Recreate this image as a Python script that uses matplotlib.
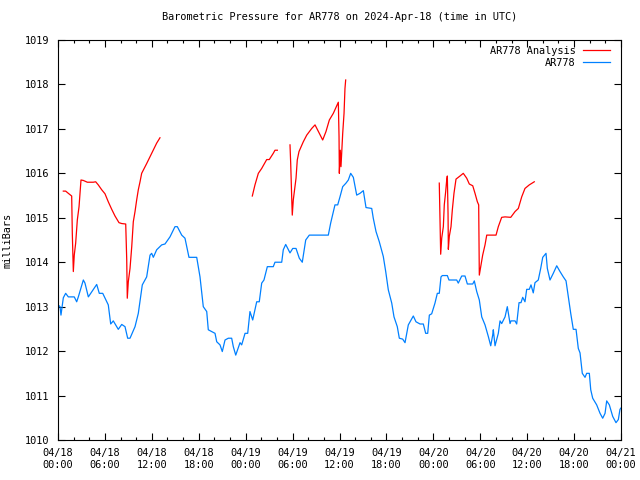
import numpy as np
import datetime as dt
import matplotlib
matplotlib.use("Agg")
import matplotlib.pyplot as plt
import matplotlib.dates as mdates
from matplotlib.ticker import MultipleLocator

nan = np.nan
start = dt.datetime(2024, 4, 18, 0, 0)

# AR778 observations (hours after 04/18 00:00 UTC, millibars)
obs_hours = [
    0.0, 0.26, 0.38, 0.68, 0.98, 1.32, 2.08, 2.39, 2.60, 3.24, 3.45, 3.88, 4.95, 5.28, 5.72,
    6.43, 6.74, 7.07, 7.71, 8.15, 8.57, 8.91, 9.21, 9.85, 10.27, 10.78, 11.34, 11.77, 11.98,
    12.19, 12.62, 13.26, 13.68, 14.32, 14.96, 15.26, 15.82, 16.24, 16.75, 17.74, 18.16, 18.58,
    19.02, 19.22, 20.08, 20.30, 20.72, 21.01, 21.36, 21.78, 22.21, 22.42, 22.73, 23.28, 23.49,
    23.92, 24.26, 24.55, 24.90, 25.41, 25.74, 26.05, 26.34, 26.77, 27.53, 27.75, 28.61, 28.81,
    29.12, 29.67, 30.02, 30.44, 30.86, 31.24, 31.68, 32.14, 34.57, 34.87, 35.42, 35.77, 36.06,
    36.41, 36.83, 37.13, 37.43, 37.77, 38.20, 38.62, 39.05, 39.39, 40.12, 40.32, 40.67, 41.09,
    41.60, 41.91, 42.24, 42.68, 42.97, 43.39, 43.65, 44.08, 44.38, 44.80, 45.44, 45.78, 46.30,
    46.72, 47.02, 47.28, 47.49, 47.79, 48.21, 48.51, 48.76, 48.98, 49.15, 49.79, 50.00, 50.99,
    51.19, 51.63, 52.05, 52.35, 53.04, 53.24, 53.55, 53.88, 54.19, 54.61, 55.03, 55.34, 55.59,
    55.67, 55.89, 56.31, 56.53, 56.74, 57.17, 57.46, 57.81, 57.93, 58.45, 58.66, 58.96, 59.21,
    59.43, 59.72, 59.94, 60.27, 60.49, 60.78, 61.00, 61.42, 61.73, 61.99, 62.41, 62.58, 62.92,
    63.34, 63.78, 64.20, 64.62, 64.97, 65.26, 65.57, 65.90, 66.25, 66.54, 66.76, 67.05, 67.40,
    67.61, 67.95, 68.13, 68.38, 68.89, 69.32, 69.66, 69.96, 70.17, 70.51, 70.94, 71.36, 71.66,
    71.87, 72.0,
]
obs_mb = [
    1013.04, 1013.0, 1012.81, 1013.2, 1013.3, 1013.22, 1013.22, 1013.11, 1013.22, 1013.6, 1013.53,
    1013.22, 1013.5, 1013.3, 1013.3, 1013.04, 1012.61, 1012.68, 1012.49, 1012.6, 1012.55, 1012.29,
    1012.29, 1012.55, 1012.85, 1013.49, 1013.67, 1014.16, 1014.2, 1014.11, 1014.28, 1014.39,
    1014.41, 1014.57, 1014.8, 1014.8, 1014.61, 1014.54, 1014.11, 1014.11, 1013.67, 1013.0,
    1012.89, 1012.48, 1012.4, 1012.21, 1012.14, 1011.99, 1012.25, 1012.29, 1012.29, 1012.1,
    1011.91, 1012.19, 1012.14, 1012.4, 1012.4, 1012.89, 1012.7, 1013.11, 1013.11, 1013.53,
    1013.6, 1013.9, 1013.9, 1014.0, 1014.0, 1014.28, 1014.4, 1014.21, 1014.31, 1014.31, 1014.09,
    1014.0, 1014.5, 1014.61, 1014.61, 1014.88, 1015.29, 1015.29, 1015.47, 1015.7, 1015.78,
    1015.85, 1016.0, 1015.91, 1015.51, 1015.55, 1015.61, 1015.23, 1015.21, 1014.99, 1014.69,
    1014.46, 1014.13, 1013.79, 1013.38, 1013.08, 1012.77, 1012.55, 1012.29, 1012.27, 1012.19,
    1012.59, 1012.79, 1012.66, 1012.61, 1012.61, 1012.4, 1012.4, 1012.81, 1012.84, 1013.08,
    1013.3, 1013.3, 1013.67, 1013.7, 1013.7, 1013.6, 1013.6, 1013.53, 1013.69, 1013.69, 1013.51,
    1013.51, 1013.58, 1013.34, 1013.15, 1012.77, 1012.59, 1012.33, 1012.12, 1012.36, 1012.48,
    1012.12, 1012.4, 1012.68, 1012.62, 1012.77, 1013.0, 1012.62, 1012.68, 1012.68, 1012.61,
    1013.09, 1013.09, 1013.21, 1013.11, 1013.39, 1013.39, 1013.49, 1013.31, 1013.54, 1013.6,
    1013.86, 1014.11, 1014.2, 1013.86, 1013.6, 1013.75, 1013.92, 1013.79, 1013.67, 1013.58,
    1013.22, 1012.85, 1012.49, 1012.49, 1012.06, 1011.96, 1011.5, 1011.41, 1011.5, 1011.5,
    1011.13, 1010.94, 1010.79, 1010.6, 1010.49, 1010.6, 1010.88, 1010.79, 1010.53, 1010.39,
    1010.46, 1010.69, 1010.72,
]

# AR778 analysis (gaps where no analysis is available)
ana_hours = [
    0.68, 0.98, 1.32, 1.75, 1.83, 1.96, 2.08, 2.26, 2.47, 2.69, 2.94, 3.24, 3.75, 4.51, 4.82,
    5.15, 5.59, 6.01, 6.43, 6.87, 7.29, 7.80, 8.15, 8.66, 8.79, 8.86, 8.99, 9.21, 9.43, 9.63,
    9.85, 10.06, 10.27, 10.49, 10.70, 11.34, 11.98, 12.62, 13.04,
    13.5,
    24.85, 25.19, 25.62, 26.05, 26.69, 27.02, 27.53, 27.75, 28.05,
    28.5,
    29.67, 29.76, 29.89, 29.96, 30.09, 30.44, 30.60, 30.82, 31.37, 31.81, 32.45, 32.87, 33.42,
    33.85, 34.27, 34.70, 35.21, 35.85, 35.94, 35.98, 36.10, 36.19, 36.41, 36.58, 36.70, 36.79,
    37.0,
    48.76, 48.85, 48.94, 49.07, 49.28, 49.40, 49.58, 49.71, 49.79, 49.88, 49.92, 50.04, 50.26,
    50.43, 50.64, 50.90, 51.41, 51.83, 52.27, 52.60, 53.04, 53.33, 53.63, 53.80, 53.84, 53.88,
    54.06, 54.31, 54.61, 54.83, 56.02, 56.31, 56.74, 57.17, 57.90, 58.45, 58.87, 59.30, 59.72,
    60.27, 60.91,
]
ana_mb = [
    1015.6, 1015.6, 1015.55, 1015.49, 1014.65, 1013.79, 1014.16, 1014.43, 1014.95, 1015.25,
    1015.85, 1015.84, 1015.8, 1015.8, 1015.81, 1015.74, 1015.63, 1015.54, 1015.36, 1015.19,
    1015.04, 1014.89, 1014.87, 1014.86, 1014.05, 1013.19, 1013.56, 1013.86, 1014.35, 1014.91,
    1015.14, 1015.4, 1015.63, 1015.81, 1016.0, 1016.22, 1016.45, 1016.68, 1016.8,
    nan,
    1015.49, 1015.74, 1016.0, 1016.11, 1016.31, 1016.31, 1016.45, 1016.52, 1016.52,
    nan,
    1016.64, 1016.22, 1015.44, 1015.06, 1015.4, 1015.89, 1016.3, 1016.49, 1016.71, 1016.86,
    1017.01, 1017.09, 1016.9, 1016.75, 1016.94, 1017.2, 1017.35, 1017.6, 1016.83, 1016.0,
    1016.52, 1016.15, 1016.9, 1017.35, 1017.91, 1018.1,
    nan,
    1015.78, 1014.99, 1014.18, 1014.54, 1014.8, 1015.29, 1015.59, 1015.85, 1015.94, 1015.1,
    1014.29, 1014.58, 1014.8, 1015.18, 1015.55, 1015.87, 1015.94, 1016.0, 1015.89, 1015.76,
    1015.72, 1015.55, 1015.36, 1015.29, 1014.5, 1013.71, 1013.9, 1014.16, 1014.39, 1014.61,
    1014.61, 1014.8, 1015.01, 1015.02, 1015.01, 1015.14, 1015.21, 1015.47, 1015.66, 1015.74,
    1015.81,
]

obs_t = [start + dt.timedelta(hours=h) for h in obs_hours]
ana_t = [start + dt.timedelta(hours=h) for h in ana_hours]

plt.rcParams['font.family'] = ['DejaVu Sans Mono']
plt.rcParams['font.size'] = 7.4

fig = plt.figure(figsize=(6.4, 4.8), dpi=100)
ax = fig.add_axes([58 / 640, 40 / 480, 563 / 640, 400 / 480])

ax.plot(ana_t, ana_mb, color="#ff0000", lw=0.9, label="AR778 Analysis")
ax.plot(obs_t, obs_mb, color="#0080ff", lw=0.9, label="AR778")

ax.set_xlim(start, start + dt.timedelta(hours=72))
ax.set_ylim(1010, 1019)
ax.yaxis.set_major_locator(MultipleLocator(1))
ax.xaxis.set_major_locator(mdates.HourLocator(byhour=[0, 6, 12, 18]))
ax.xaxis.set_minor_locator(mdates.HourLocator(byhour=range(0, 24, 2)))
ax.xaxis.set_major_formatter(mdates.DateFormatter("%m/%d\n%H:%M"))

ax.tick_params(which="both", direction="in", top=True, right=True, width=0.8, pad=6)
ax.tick_params(which="major", length=5)
ax.tick_params(which="minor", length=2.5)
for s in ax.spines.values():
    s.set_linewidth(0.8)

ax.set_ylabel("milliBars", labelpad=9)
fig.suptitle("Barometric Pressure for AR778 on 2024-Apr-18 (time in UTC)",
             y=0.975, x=0.53, fontsize=7.4)

ax.legend(loc="upper right", bbox_to_anchor=(0.99, 1.0), frameon=False, markerfirst=False,
          handlelength=2.6, borderaxespad=0.15, labelspacing=0.2, handletextpad=0.7)

plt.savefig("out.png", dpi=100)
